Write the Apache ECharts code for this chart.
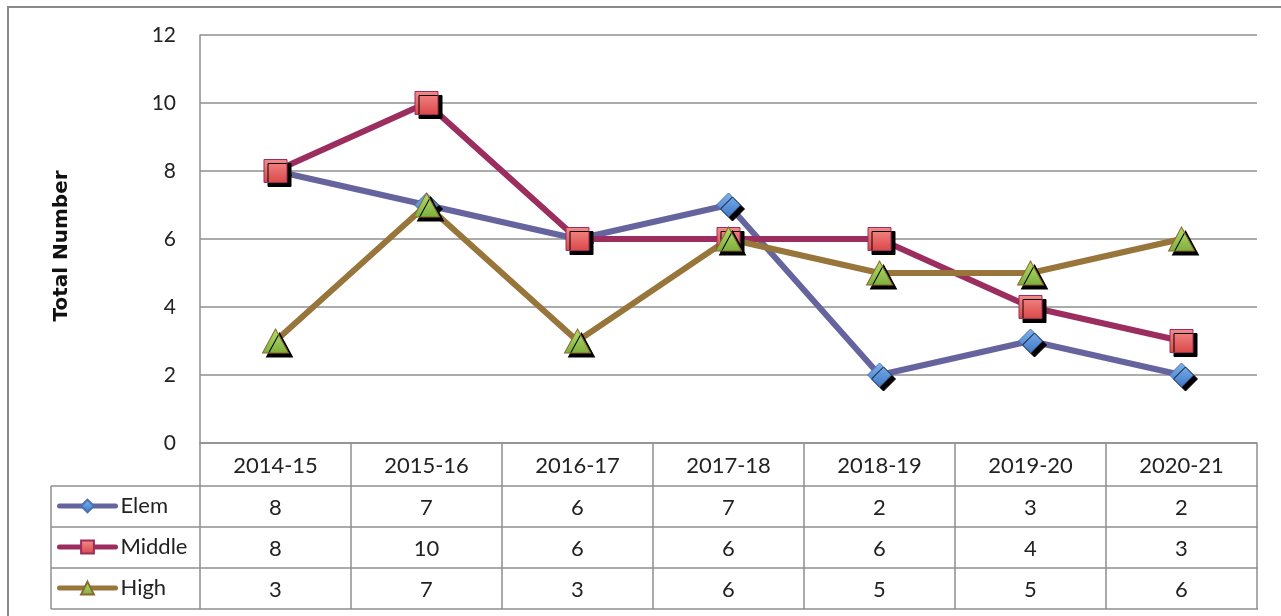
<!DOCTYPE html>
<html>
<head>
<meta charset="utf-8">
<script src="https://cdn.jsdelivr.net/npm/echarts@6/dist/echarts.min.js"></script>
<style>
  html, body { margin: 0; padding: 0; background: #fff; }
  #main { width: 1281px; height: 616px; }
</style>
</head>
<body>
<div id="main"></div>
<script>
var years = ['2014-15', '2015-16', '2016-17', '2017-18', '2018-19', '2019-20', '2020-21'];
var elem = [8, 7, 6, 7, 2, 3, 2];
var middle = [8, 10, 6, 6, 6, 4, 3];
var high = [3, 7, 3, 6, 5, 5, 6];

var chart = echarts.init(document.getElementById('main'));

// plot area + data table geometry
var gLeft = 200, gTop = 35, gRight = 24, gBottom = 173;
var plotBottom = 616 - gBottom;      // 443
var headH = 43, rowH = 41;
var tableLeft = 51, tableRight = 1281 - gRight + 1;
var gridColor = '#8f8f8f';
var font = 'Lato';
var fs = 21, tfs = 22;

function grad(top, bottom) {
  return new echarts.graphic.LinearGradient(0, 0, 0, 1, [
    { offset: 0, color: top }, { offset: 1, color: bottom }
  ]);
}

// table lines (rows below the header)
var tableLines = [];
for (var r = 0; r <= 3; r++) {
  var y = plotBottom + headH + r * rowH;
  tableLines.push({
    type: 'line', silent: true,
    shape: { x1: tableLeft, y1: y, x2: tableRight, y2: y },
    style: { stroke: gridColor, lineWidth: 1.5 }
  });
}
tableLines.push({
  type: 'line', silent: true,
  shape: { x1: tableLeft, y1: plotBottom + headH, x2: tableLeft, y2: plotBottom + headH + 3 * rowH },
  style: { stroke: gridColor, lineWidth: 1.5 }
});
// outer chart frame
tableLines.push({
  type: 'rect', silent: true, z: -1,
  shape: { x: 8, y: 7, width: 1290, height: 630 },
  style: { fill: 'none', stroke: '#8a8a8a', lineWidth: 2 }
});

var shadow = { shadowColor: '#000', shadowBlur: 0, shadowOffsetX: 4, shadowOffsetY: 4 };

var option = {
  animation: false,
  textStyle: { fontFamily: font },
  grid: { left: gLeft, right: gRight, top: gTop, bottom: gBottom, containLabel: false },
  legend: {
    type: 'plain',
    data: ['Elem', 'Middle', 'High'],
    orient: 'vertical',
    left: 57,
    top: 495,
    height: 140,
    padding: 0,
    itemWidth: 56,
    itemHeight: 16,
    itemGap: 19,
    textStyle: { fontSize: tfs, color: '#222', fontFamily: font },
    itemStyle: { shadowColor: 'rgba(0,0,0,0)' },
    lineStyle: { width: 5, cap: 'round' }
  },
  xAxis: {
    type: 'category',
    data: years,
    boundaryGap: true,
    axisLine: { show: true, lineStyle: { color: gridColor, width: 1.5 } },
    axisTick: {
      show: true, inside: false, length: headH + 3 * rowH,
      lineStyle: { color: gridColor, width: 1.5 }
    },
    axisLabel: {
      interval: 0,
      margin: 1,
      color: '#222',
      formatter: function (v, i) {
        return '{h|' + v + '}\n{v|' + elem[i] + '}\n{v|' + middle[i] + '}\n{v|' + high[i] + '}';
      },
      rich: {
        h: { fontSize: tfs, lineHeight: headH, color: '#222', fontFamily: font },
        v: { fontSize: tfs, lineHeight: rowH, color: '#222', fontFamily: font }
      }
    }
  },
  yAxis: {
    type: 'value',
    min: 0, max: 12, interval: 2,
    name: 'Total Number',
    nameLocation: 'middle',
    nameGap: 128,
    nameTextStyle: { fontSize: 20, fontWeight: 'bold', color: '#111', fontFamily: 'DejaVu Sans', padding: [0, 14, 0, 0] },
    axisLine: { show: true, lineStyle: { color: gridColor, width: 1.5 } },
    axisTick: { show: false },
    axisLabel: { margin: 24, fontSize: fs, color: '#222', fontFamily: font },
    splitLine: { show: true, lineStyle: { color: gridColor, width: 1.5 } }
  },
  graphic: tableLines,
  series: [
    {
      name: 'Elem', type: 'line', data: elem,
      symbol: 'diamond', symbolSize: 24,
      lineStyle: { width: 6, color: '#66649f' },
      itemStyle: Object.assign({ color: grad('#7fb2ee', '#3f78c6'), borderColor: '#4a72b0', borderWidth: 1 }, shadow),
      emphasis: { disabled: true }
    },
    {
      name: 'Middle', type: 'line', data: middle,
      symbol: 'rect', symbolSize: 23,
      lineStyle: { width: 6, color: '#9b2d5f' },
      itemStyle: Object.assign({ color: grad('#f58b8b', '#d94848'), borderColor: '#9b2d5f', borderWidth: 1 }, shadow),
      emphasis: { disabled: true }
    },
    {
      name: 'High', type: 'line', data: high,
      symbol: 'triangle', symbolSize: [26, 24],
      lineStyle: { width: 6, color: '#98753a' },
      itemStyle: Object.assign({ color: grad('#b3de6c', '#7fae3c'), borderColor: '#8a6a30', borderWidth: 1 }, shadow),
      emphasis: { disabled: true }
    }
  ]
};

chart.setOption(option);
</script>
</body>
</html>
